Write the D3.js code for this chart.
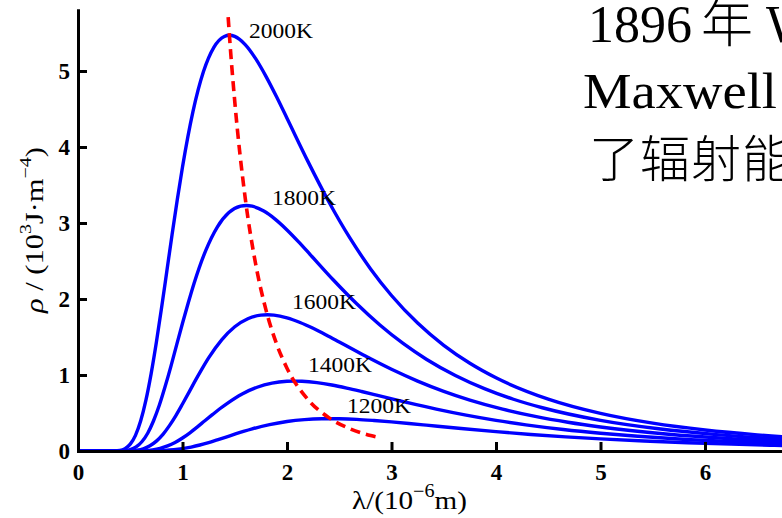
<!DOCTYPE html>
<html><head><meta charset="utf-8">
<script src="https://cdn.jsdelivr.net/npm/d3@7"></script>
<style>body{margin:0;background:#fff}svg{display:block}</style>
</head><body><svg id="c" width="782" height="518"></svg>
<script>
// ---- data ----
const temps = ["2000K", "1800K", "1600K", "1400K", "1200K"];

const lam2000 = [0, 0.3, 0.4, 0.45, 0.5, 0.55, 0.6, 0.65, 0.7, 0.75, 0.8, 0.85, 0.9, 0.95, 1.0, 1.1, 1.2, 1.3, 1.4, 1.45, 1.5, 1.6, 1.7, 1.8, 1.9, 2.0, 2.2, 2.4, 2.6, 2.8, 3.0, 3.25, 3.5, 3.75, 4.0, 4.5, 5.0, 5.5, 6.0, 6.5, 7.0, 7.5, 8.0];
const rho2000 = [0, 0, 0.008, 0.031, 0.090, 0.206, 0.397, 0.669, 1.018, 1.430, 1.887, 2.365, 2.845, 3.307, 3.737, 4.466, 4.990, 5.312, 5.455, 5.471, 5.455, 5.347, 5.162, 4.926, 4.660, 4.378, 3.811, 3.280, 2.807, 2.396, 2.046, 1.683, 1.390, 1.154, 0.963, 0.683, 0.495, 0.366, 0.276, 0.212, 0.165, 0.130, 0.104];

const lam1800 = [0, 0.3, 0.444, 0.5, 0.556, 0.611, 0.667, 0.722, 0.778, 0.833, 0.889, 0.944, 1.0, 1.056, 1.111, 1.222, 1.333, 1.444, 1.556, 1.611, 1.667, 1.778, 1.889, 2.0, 2.111, 2.222, 2.444, 2.667, 2.889, 3.111, 3.333, 3.611, 3.889, 4.167, 4.444, 5.0, 5.556, 6.111, 6.667, 7.222, 7.778, 8.333];
const rho1800 = [0, 0, 0.004, 0.018, 0.053, 0.122, 0.234, 0.395, 0.601, 0.844, 1.114, 1.397, 1.680, 1.953, 2.207, 2.637, 2.947, 3.137, 3.221, 3.231, 3.221, 3.157, 3.048, 2.909, 2.752, 2.585, 2.250, 1.937, 1.658, 1.415, 1.208, 0.994, 0.821, 0.681, 0.569, 0.403, 0.292, 0.216, 0.163, 0.125, 0.097, 0.077];

const lam1600 = [0, 0.35, 0.5, 0.563, 0.625, 0.688, 0.75, 0.813, 0.875, 0.938, 1.0, 1.063, 1.125, 1.188, 1.25, 1.375, 1.5, 1.625, 1.75, 1.813, 1.875, 2.0, 2.125, 2.25, 2.375, 2.5, 2.75, 3.0, 3.25, 3.5, 3.75, 4.063, 4.375, 4.688, 5.0, 5.625, 6.25, 6.875, 7.5, 8.125];
const rho1600 = [0, 0, 0.002, 0.010, 0.029, 0.068, 0.130, 0.219, 0.334, 0.469, 0.618, 0.775, 0.932, 1.084, 1.225, 1.463, 1.635, 1.741, 1.788, 1.793, 1.788, 1.752, 1.691, 1.614, 1.527, 1.435, 1.249, 1.075, 0.920, 0.785, 0.670, 0.551, 0.455, 0.378, 0.316, 0.224, 0.162, 0.120, 0.090, 0.069];

const lam1400 = [0, 0.5, 0.643, 0.714, 0.786, 0.857, 0.929, 1.0, 1.071, 1.143, 1.214, 1.286, 1.357, 1.429, 1.571, 1.714, 1.857, 2.0, 2.071, 2.143, 2.286, 2.429, 2.571, 2.714, 2.857, 3.143, 3.429, 3.714, 4.0, 4.286, 4.643, 5.0, 5.357, 5.714, 6.429, 7.143, 7.857, 8.571];
const rho1400 = [0, 0, 0.005, 0.015, 0.035, 0.067, 0.112, 0.171, 0.240, 0.317, 0.398, 0.478, 0.556, 0.628, 0.751, 0.839, 0.893, 0.917, 0.920, 0.917, 0.899, 0.868, 0.828, 0.783, 0.736, 0.641, 0.551, 0.472, 0.403, 0.344, 0.283, 0.234, 0.194, 0.162, 0.115, 0.083, 0.062, 0.046];

const lam1200 = [0, 0.6, 0.75, 0.833, 0.917, 1.0, 1.083, 1.167, 1.25, 1.333, 1.417, 1.5, 1.583, 1.667, 1.833, 2.0, 2.167, 2.333, 2.417, 2.5, 2.667, 2.833, 3.0, 3.167, 3.333, 3.667, 4.0, 4.333, 4.667, 5.0, 5.417, 5.833, 6.25, 6.667, 7.5, 8.333];
const rho1200 = [0, 0, 0.002, 0.007, 0.016, 0.031, 0.052, 0.079, 0.111, 0.147, 0.184, 0.221, 0.257, 0.291, 0.347, 0.388, 0.413, 0.424, 0.425, 0.424, 0.416, 0.401, 0.383, 0.362, 0.340, 0.296, 0.255, 0.218, 0.186, 0.159, 0.131, 0.108, 0.090, 0.075, 0.053, 0.039];

// peak locus (red dashed)
const wienLam = [1.437, 1.449, 1.5, 1.6, 1.7, 1.8, 1.9, 2.0, 2.2, 2.4, 2.6, 2.8, 2.87];
const wienRho = [5.71, 5.47, 4.60, 3.33, 2.46, 1.85, 1.41, 1.09, 0.678, 0.439, 0.294, 0.203, 0.18];

// label anchors (data units)
const labelLam = [1.636, 1.856, 2.048, 2.20, 2.574];
const labelRho = [5.43, 3.24, 1.87, 1.04, 0.50];

const xTicks = [0, 1, 2, 3, 4, 5, 6];
const yTicks = [0, 1, 2, 3, 4, 5];

const textLine1 = ["1896", "年", "Wien"];
const textLine2 = "Maxwell";
const textLine3 = "了辐射能";

// ---- drawing ----
const svg = d3.select("#c");
const x = d3.scaleLinear().domain([0, 8]).range([78, 914]);
const y = d3.scaleLinear().domain([0, 5.8]).range([451, 10.2]);

const serif = "'Liberation Serif','Times New Roman',Times,serif";

const series = [
  [lam2000, rho2000], [lam1800, rho1800], [lam1600, rho1600],
  [lam1400, rho1400], [lam1200, rho1200]
];

const line = d3.line().x(d => x(d[0])).y(d => y(d[1])).curve(d3.curveMonotoneX);

const gCurves = svg.append("g");
series.forEach(([L, R]) => {
  gCurves.append("path")
    .datum(L.map((v, i) => [v, R[i]]))
    .attr("d", line)
    .attr("fill", "none")
    .attr("stroke", "#0000ff")
    .attr("stroke-width", 3.4)
    .attr("stroke-linejoin", "round");
});

svg.append("path")
  .datum(wienLam.map((v, i) => [v, wienRho[i]]))
  .attr("d", line)
  .attr("fill", "none")
  .attr("stroke", "#ff0000")
  .attr("stroke-width", 3.6)
  .attr("stroke-dasharray", "10,6");

// labels
svg.append("g").selectAll("text")
  .data(temps)
  .join("text")
  .attr("x", (d, i) => x(labelLam[i]))
  .attr("y", (d, i) => y(labelRho[i]))
  .attr("font-family", serif)
  .attr("font-size", 21)
  .attr("textLength", 64)
  .attr("lengthAdjust", "spacingAndGlyphs")
  .attr("fill", "#000")
  .text(d => d);

// axes
const xAxis = svg.append("g").attr("transform", `translate(0,${y(0)})`)
  .call(d3.axisBottom(x).tickValues(xTicks).tickSizeInner(-9).tickSizeOuter(0).tickPadding(13).tickFormat(d3.format("d")));
const yAxis = svg.append("g").attr("transform", `translate(${x(0)},0)`)
  .call(d3.axisLeft(y).tickValues(yTicks).tickSizeInner(-9).tickSizeOuter(0).tickPadding(8).tickFormat(d3.format("d")));

[xAxis, yAxis].forEach(g => {
  g.select(".domain").attr("stroke", "#000").attr("stroke-width", 3).attr("stroke-linecap", "square");
  g.selectAll(".tick line").attr("stroke", "#000").attr("stroke-width", 3);
  g.selectAll(".tick text").attr("font-family", serif).attr("font-weight", "bold")
    .attr("font-size", 23).attr("fill", "#000");
});

// axis titles (fitted to the reference lengths along the reading direction)
function fit(textSel, prefix, targetLen) {
  const w = textSel.node().getComputedTextLength() || targetLen;
  textSel.attr("transform", `${prefix} scale(${targetLen / w},1)`);
}

const xt = svg.append("text").attr("x", 0).attr("y", 0)
  .attr("font-family", serif).attr("font-size", 26).attr("fill", "#000");
xt.append("tspan").text("λ/(10");
xt.append("tspan").attr("font-size", 18).attr("dy", -12).text("−6");
xt.append("tspan").attr("dy", 12).text("m)");
fit(xt, "translate(352,509)", 115);

const yt = svg.append("text").attr("x", 0).attr("y", 0)
  .attr("font-family", serif).attr("font-size", 26).attr("fill", "#000");
yt.append("tspan").attr("font-style", "italic").text("ρ");
yt.append("tspan").text(" / (10");
yt.append("tspan").attr("font-size", 17).attr("dy", -12).text("3");
yt.append("tspan").attr("dy", 12).text("J·m");
yt.append("tspan").attr("font-size", 17).attr("dy", -12).text("−4");
yt.append("tspan").attr("dy", 12).text(")");
fit(yt, "translate(43,313) rotate(-90)", 166);

// text block at top right
const cjk = "'Liberation Serif','Times New Roman','Noto Sans CJK SC',serif";
const xs1 = [588, 701, 766];
textLine1.forEach((p, i) => {
  svg.append("text").attr("x", xs1[i]).attr("y", 42)
    .attr("font-family", i === 1 ? "'Noto Sans CJK SC',sans-serif" : cjk)
    .attr("font-weight", i === 1 ? 300 : 400)
    .attr("font-size", 52).attr("fill", "#000").text(p);
});
svg.append("text").attr("x", 583).attr("y", 108).attr("font-family", cjk).attr("font-size", 51)
  .attr("textLength", 194).attr("lengthAdjust", "spacingAndGlyphs")
  .attr("fill", "#000").text(textLine2);
svg.append("text").attr("x", 589).attr("y", 177).attr("font-family", "'Noto Sans CJK SC',sans-serif")
  .attr("font-weight", 300).attr("font-size", 50)
  .attr("letter-spacing", 1).attr("fill", "#000").text(textLine3);
</script>
</body></html>
